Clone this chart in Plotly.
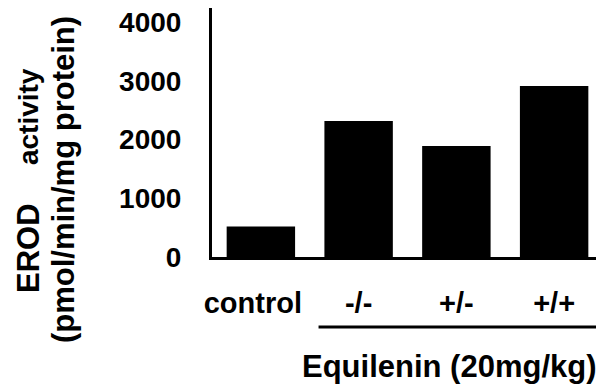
import plotly.graph_objects as go

categories = ["control", "-/-", "+/-", "+/+"]
category_labels = ["control&nbsp;&nbsp;", "-/-", "+/-", "+/+"]
erod_values = [520, 2315, 1890, 2910]
y_ticks = [0, 1000, 2000, 3000, 4000]

FONT = "Liberation Sans"

fig = go.Figure()
fig.add_trace(go.Bar(
    x=categories, y=erod_values, width=0.7,
    marker=dict(color="black", line=dict(width=0)),
))

# page has an 8px body margin, so the figure is 8px smaller than the window
fig.update_layout(
    width=596, height=379,
    margin=dict(l=204, r=1, t=0, b=130),
    paper_bgcolor="white", plot_bgcolor="white",
    showlegend=False,
    font=dict(family=FONT, color="black"),
)
fig.update_xaxes(
    showline=True, linecolor="black", linewidth=3,
    showgrid=False, zeroline=False, ticks="", automargin=False,
    tickvals=categories, ticktext=category_labels,
    tickfont=dict(family=FONT, size=29, color="black", weight="bold"),
    ticklabelstandoff=18, ticklabeloverflow="allow",
    range=[-0.5, 3.5],
)
fig.update_yaxes(
    showline=True, linecolor="black", linewidth=3,
    showgrid=False, zeroline=False, ticks="", automargin=False,
    tickvals=y_ticks, ticktext=[str(v) for v in y_ticks],
    tickfont=dict(family=FONT, size=28, color="black", weight="bold"),
    ticklabelstandoff=22, ticklabeloverflow="allow",
    range=[0, 4240],
)

# bracket line under the Equilenin groups
fig.add_shape(type="line", xref="x", yref="paper",
              x0=0.59, x1=3.49, y0=-0.281, y1=-0.281,
              line=dict(color="black", width=3))

fig.add_annotation(text="Equilenin (20mg/kg)", xref="x", yref="paper",
                   x=1.93, y=-0.438, showarrow=False,
                   xanchor="center", yanchor="middle",
                   font=dict(family=FONT, size=31, color="black", weight="bold"))

fig.add_annotation(text="EROD", xref="paper", yref="paper",
                   x=-0.4706, y=0.036, showarrow=False, textangle=-90,
                   xanchor="center", yanchor="middle",
                   font=dict(family=FONT, size=31, color="black", weight="bold"))
fig.add_annotation(text="activity", xref="paper", yref="paper",
                   x=-0.4706, y=0.566, showarrow=False, textangle=-90,
                   xanchor="center", yanchor="middle",
                   font=dict(family=FONT, size=28, color="black", weight="bold"))
fig.add_annotation(text="(pmol/min/mg protein)", xref="paper", yref="paper",
                   x=-0.381, y=0.309, showarrow=False, textangle=-90,
                   xanchor="center", yanchor="middle",
                   font=dict(family=FONT, size=31, color="black", weight="bold"))

fig.write_html("out.html")
